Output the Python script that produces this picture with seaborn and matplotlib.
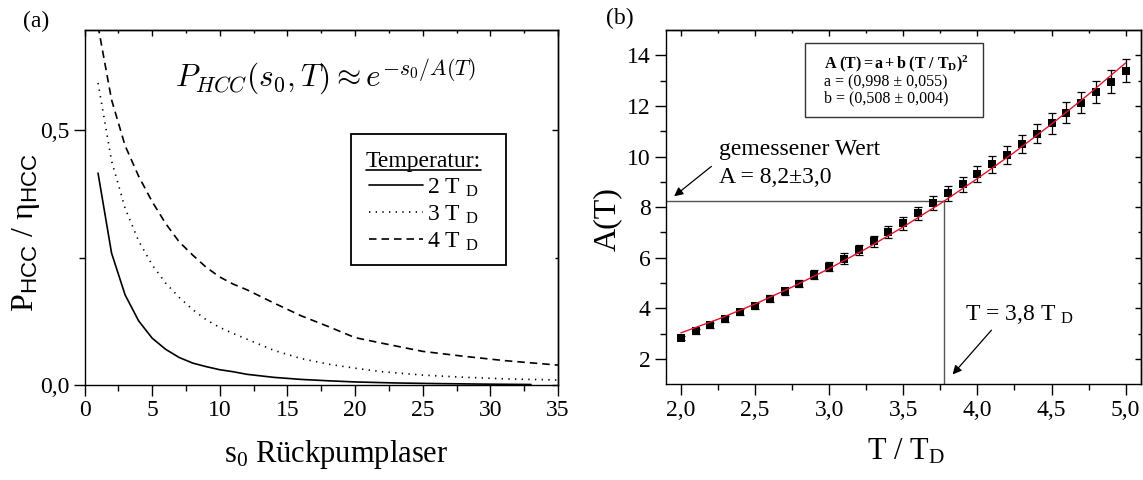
import matplotlib
matplotlib.use("Agg")
import matplotlib.pyplot as plt
import seaborn as sns
from matplotlib.patches import Rectangle
from matplotlib.lines import Line2D

# ---------------- data: panel (a) ----------------
s0_2TD = [1, 2, 3, 4, 5, 6, 7, 8, 9, 10, 11, 12, 14, 16, 18, 20, 23, 26, 30, 33]
P_2TD = [0.416, 0.259, 0.177, 0.126, 0.092, 0.070, 0.054, 0.043, 0.036, 0.030,
         0.026, 0.021, 0.015, 0.011, 0.0083, 0.006, 0.004, 0.0028, 0.0016, 0.001]
s0_3TD = [1, 2, 3, 4, 5, 6, 7, 8, 9, 10, 11, 12, 14, 16, 18, 20, 22, 25, 28, 31, 35]
P_3TD = [0.593, 0.440, 0.347, 0.283, 0.236, 0.200, 0.172, 0.148, 0.128, 0.113,
         0.101, 0.090, 0.068, 0.052, 0.041, 0.033, 0.026, 0.0195, 0.0153, 0.0121, 0.0098]
s0_4TD = [1, 2, 3, 4, 5, 6, 7, 8, 9, 10, 11, 12, 14, 16, 18, 20, 22, 25, 28, 31, 35]
P_4TD = [0.705, 0.560, 0.470, 0.410, 0.360, 0.317, 0.281, 0.255, 0.231, 0.212,
         0.198, 0.187, 0.161, 0.136, 0.115, 0.093, 0.082, 0.066, 0.0565, 0.048, 0.039]
legend_labels_a = [r"2 T $_{\rm D}$", r"3 T $_{\rm D}$", r"4 T $_{\rm D}$"]
xticks_a = [0, 5, 10, 15, 20, 25, 30, 35]
xticklabels_a = ["0", "5", "10", "15", "20", "25", "30", "35"]
yticks_a = [0.0, 0.5]
yticklabels_a = ["0,0", "0,5"]

# ---------------- data: panel (b) ----------------
T_meas = [2.0, 2.1, 2.2, 2.3, 2.4, 2.5, 2.6, 2.7, 2.8, 2.9, 3.0, 3.1, 3.2, 3.3, 3.4, 3.5,
          3.6, 3.7, 3.8, 3.9, 4.0, 4.1, 4.2, 4.3, 4.4, 4.5, 4.6, 4.7, 4.8, 4.9, 5.0]
A_meas = [2.84, 3.09, 3.33, 3.58, 3.84, 4.10, 4.38, 4.67, 4.98, 5.33, 5.64, 5.97, 6.31,
          6.65, 7.02, 7.36, 7.75, 8.15, 8.54, 8.91, 9.30, 9.70, 10.07, 10.49, 10.90,
          11.31, 11.73, 12.13, 12.55, 12.96, 13.39]
A_err = [0.08, 0.09, 0.10, 0.11, 0.12, 0.12, 0.13, 0.14, 0.15, 0.17, 0.18, 0.20, 0.21,
         0.22, 0.24, 0.26, 0.27, 0.28, 0.29, 0.30, 0.32, 0.34, 0.35, 0.37, 0.38, 0.40,
         0.41, 0.42, 0.43, 0.44, 0.45]
T_fit = [2.0, 2.25, 2.5, 2.75, 3.0, 3.25, 3.5, 3.75, 4.0, 4.25, 4.5, 4.75, 5.0]
A_fit = [3.03, 3.57, 4.17, 4.84, 5.57, 6.36, 7.22, 8.14, 9.13, 10.17, 11.28, 12.46, 13.70]
A_measured_value = 8.26
T_result = 3.775
xticks_b = [2.0, 2.5, 3.0, 3.5, 4.0, 4.5, 5.0]
xticklabels_b = ["2,0", "2,5", "3,0", "3,5", "4,0", "4,5", "5,0"]
yticks_b = [2, 4, 6, 8, 10, 12, 14]
yticklabels_b = ["2", "4", "6", "8", "10", "12", "14"]
fit_box_text = (r"$\mathbf{A\ (T) = a + b\ (T\ /\ T_D)^2}$" + "\n"
                + "a = (0,998 ± 0,055)\nb = (0,508 ± 0,004)")

# ---------------- style ----------------
sns.set_theme(style="ticks")
plt.rcParams.update({
    "font.family": ["Liberation Serif", "DejaVu Serif"],
    "mathtext.fontset": "custom",
    "mathtext.rm": "Liberation Serif",
    "mathtext.it": "Liberation Serif:italic",
    "mathtext.bf": "Liberation Serif:bold",
    "mathtext.sf": "Liberation Sans",
    "axes.edgecolor": "black",
    "axes.linewidth": 1.0,
    "xtick.color": "black",
    "ytick.color": "black",
    "text.color": "black",
    "axes.labelcolor": "black",
})

W, H = 1143, 480
fig = plt.figure(figsize=(W / 100, H / 100), dpi=100)
axA = fig.add_axes([84.5 / W, (H - 385) / H, (558 - 84.5) / W, 355 / H])
axB = fig.add_axes([666 / W, (H - 384.3) / H, (1140.5 - 666) / W, 354.3 / H])
TICKFS = 17


def style_axes(ax, xmaj, xlab, xmin, ymaj, ylab, ymin):
    ax.set_xticks(xmaj, xlab)
    ax.set_xticks(xmin, minor=True)
    ax.set_yticks(ymaj, ylab)
    ax.set_yticks(ymin, minor=True)
    ax.tick_params(which="major", direction="out", length=8, width=1.0,
                   labelsize=TICKFS, pad=3)
    ax.tick_params(which="minor", direction="out", length=4.5, width=1.0)
    for sp in ax.spines.values():
        sp.set_visible(True)
        sp.set_linewidth(1.0)
    sx = ax.secondary_xaxis("top")
    sx.set_xticks(xmaj, [""] * len(xmaj))
    sx.set_xticks(xmin, minor=True)
    sx.tick_params(which="major", direction="in", length=4, width=1.0)
    sx.tick_params(which="minor", direction="in", length=2.5, width=1.0)
    sy = ax.secondary_yaxis("right")
    sy.set_yticks(ymaj, [""] * len(ymaj))
    sy.set_yticks(ymin, minor=True)
    sy.tick_params(which="major", direction="in", length=4, width=1.0)
    sy.tick_params(which="minor", direction="in", length=2.5, width=1.0)


# ---------------- panel (a) ----------------
sns.lineplot(x=s0_2TD, y=P_2TD, ax=axA, color="black", lw=1.2, linestyle="-",
             label=legend_labels_a[0], errorbar=None)
sns.lineplot(x=s0_3TD, y=P_3TD, ax=axA, color="black", lw=1.2, linestyle=(0, (0.8, 3.2)),
             label=legend_labels_a[1], errorbar=None)
sns.lineplot(x=s0_4TD, y=P_4TD, ax=axA, color="black", lw=1.2, linestyle=(0, (4.5, 3.0)),
             label=legend_labels_a[2], errorbar=None)
axA.set_xlim(0, 35)
axA.set_ylim(0, 0.697)
style_axes(axA, xticks_a, xticklabels_a, [2.5, 7.5, 12.5, 17.5, 22.5, 27.5, 32.5],
           yticks_a, yticklabels_a, [0.25])

axA.set_xlabel(r"s$_0$ Rückpumplaser", fontsize=22)
axA.xaxis.set_label_coords(0.532, -0.150)
axA.set_ylabel(r"P$_{\mathsf{HCC}}$ / η$_{\mathsf{HCC}}$", fontsize=23)
axA.yaxis.set_label_coords(-0.090, 0.43)

axA.text(17.8, 0.605, r"$P_{HCC}(s_0,T) \approx e^{-s_0/A(T)}$", math_fontfamily="cm",
         fontsize=22.5, ha="center", va="center")

handles = axA.get_lines()[:3]
leg = axA.legend(handles=handles, labels=legend_labels_a, title="Temperatur:",
                 loc="upper left", bbox_to_anchor=(0.5945, 0.660), frameon=False,
                 fontsize=17, title_fontsize=17, handlelength=2.3, handletextpad=0.15,
                 labelspacing=0.2, borderpad=0, borderaxespad=0)
axA.add_patch(Rectangle((0.5628, 0.338), 0.327, 0.369, transform=axA.transAxes,
                        fill=False, ec="black", lw=1.3, zorder=5))

# ---------------- panel (b) ----------------
axB.errorbar(T_meas, A_meas, yerr=A_err, fmt="none", ecolor="black", elinewidth=0.9,
             capsize=2.8, capthick=0.9, zorder=2)
sns.scatterplot(x=T_meas, y=A_meas, ax=axB, marker="s", s=32, color="black",
                edgecolor="black", linewidth=0, zorder=3)
sns.lineplot(x=T_fit, y=A_fit, ax=axB, color="#e3132c", lw=1.0, zorder=4, errorbar=None)
axB.set_xlim(1.9, 5.1)
axB.set_ylim(1, 15)
style_axes(axB, xticks_b, xticklabels_b, [2.25, 2.75, 3.25, 3.75, 4.25, 4.75],
           yticks_b, yticklabels_b, [3, 5, 7, 9, 11, 13])
axB.set_xlabel(r"T / T$_{\rm D}$", fontsize=22)
axB.xaxis.set_label_coords(0.506, -0.150)
axB.set_ylabel("A(T)", fontsize=23)
axB.yaxis.set_label_coords(-0.093, 0.467)

# guide lines
axB.plot([1.9, T_result], [A_measured_value, A_measured_value], color="#555555", lw=1.0, zorder=1)
axB.plot([T_result, T_result], [1, A_measured_value], color="#555555", lw=1.0, zorder=1)

axB.text(2.256, 10.07, "gemessener Wert", fontsize=17, ha="left", va="baseline")
axB.text(2.256, 8.96, "A = 8,2±3,0", fontsize=17, ha="left", va="baseline")
axB.text(3.918, 3.55, r"T = 3,8 T $_{\rm D}$", fontsize=17, ha="left", va="baseline")
arrow_kw = dict(arrowstyle="-|>", color="black", lw=0.9, mutation_scale=13,
                shrinkA=0, shrinkB=0)
axB.annotate("", xy=(1.955, 8.43), xytext=(2.206, 9.61), arrowprops=arrow_kw)
axB.annotate("", xy=(3.833, 1.39), xytext=(4.095, 3.14), arrowprops=arrow_kw)

# formula box
axB.add_patch(Rectangle((0.292, 0.755), 0.376, 0.207, transform=axB.transAxes,
                        fill=False, ec="#333333", lw=1.0, zorder=5))
axB.text(0.334, 0.935, fit_box_text, transform=axB.transAxes, fontsize=11.5,
         ha="left", va="top", linespacing=1.05)

# panel labels
fig.text(36 / W, 1 - 21 / H, "(a)", fontsize=17, ha="center", va="center")
fig.text(620 / W, 1 - 18 / H, "(b)", fontsize=17, ha="center", va="center")

# underline legend title
fig.canvas.draw()
renderer = fig.canvas.get_renderer()
bb = leg.get_title().get_window_extent(renderer)
fig.add_artist(Line2D([bb.x0, bb.x1], [bb.y0 + 1.5, bb.y0 + 1.5], transform=None,
                      color="black", lw=1.2))

fig.savefig("out.png", dpi=100)
